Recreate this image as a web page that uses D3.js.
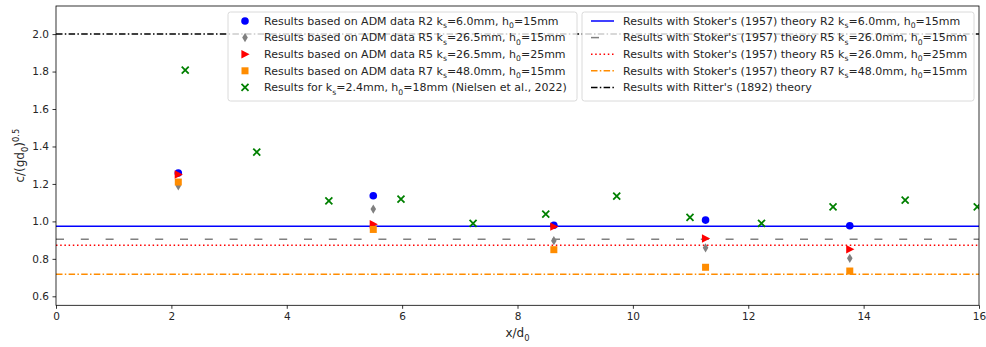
<!DOCTYPE html>
<html>
<head>
<meta charset="utf-8">
<script src="https://cdn.jsdelivr.net/npm/d3@7"></script>
<style>
  body { margin: 0; background: #fff; }
  svg { display: block; font-family: "DejaVu Sans", sans-serif; }
</style>
</head>
<body>
<svg></svg>
<script>
const W = 986, H = 347;
const margins = {t: 6, r: 7, b: 41.7, l: 56};
const size = {w: W - margins.l - margins.r, h: H - margins.t - margins.b};

// ---- data ----
const xR = [2.12, 5.5, 8.63, 11.26, 13.76];
const r2h15 = [1.258, 1.137, 0.979, 1.007, 0.977];
const r5h15 = [1.19, 1.066, 0.897, 0.859, 0.803];
const r5h25 = [1.25, 0.985, 0.972, 0.909, 0.851];
const r7h15 = [1.21, 0.957, 0.849, 0.755, 0.735];
const xNielsen = [2.24, 3.48, 4.73, 5.98, 7.23, 8.49, 9.72, 10.99, 12.23, 13.47, 14.72, 15.97];
const yNielsen = [1.808, 1.37, 1.11, 1.119, 0.99, 1.039, 1.135, 1.022, 0.99, 1.078, 1.114, 1.078];
const stokerR2h15 = 0.974;
const stokerR5h15 = 0.905;
const stokerR5h25 = 0.873;
const stokerR7h15 = 0.718;
const ritter = 2.0;
const xTicks = [0, 2, 4, 6, 8, 10, 12, 14, 16];
const yTicks = [0.6, 0.8, 1.0, 1.2, 1.4, 1.6, 1.8, 2.0];

const pointSeries = [
  {name: 'Results based on ADM data R2 k_{s}=6.0mm, h_{0}=15mm', xs: xR, ys: r2h15, shape: 'circle', color: '#0000ff'},
  {name: 'Results based on ADM data R5 k_{s}=26.5mm, h_{0}=15mm', xs: xR, ys: r5h15, shape: 'diamond', color: '#808080'},
  {name: 'Results based on ADM data R5 k_{s}=26.5mm, h_{0}=25mm', xs: xR, ys: r5h25, shape: 'triangle', color: '#ff0000'},
  {name: 'Results based on ADM data R7 k_{s}=48.0mm, h_{0}=15mm', xs: xR, ys: r7h15, shape: 'square', color: '#ff8c00'},
  {name: 'Results for k_{s}=2.4mm, h_{0}=18mm (Nielsen et al., 2022)', xs: xNielsen, ys: yNielsen, shape: 'x', color: '#008000'}
];
const lineSeries = [
  {name: "Results with Stoker's (1957) theory R2 k_{s}=6.0mm, h_{0}=15mm", y: stokerR2h15, color: '#0000ff', dash: null},
  {name: "Results with Stoker's (1957) theory R5 k_{s}=26.0mm, h_{0}=15mm", y: stokerR5h15, color: '#808080', dash: '8,16.8'},
  {name: "Results with Stoker's (1957) theory R5 k_{s}=26.0mm, h_{0}=25mm", y: stokerR5h25, color: '#ff0000', dash: '1.5,2.7'},
  {name: "Results with Stoker's (1957) theory R7 k_{s}=48.0mm, h_{0}=15mm", y: stokerR7h15, color: '#ff8c00', dash: '6.5,2.3,1.5,2.3'},
  {name: "Results with Ritter's (1892) theory", y: ritter, color: '#000000', dash: '6.5,2.3,1.5,2.3'}
];

const svg = d3.select('svg').attr('width', W).attr('height', H);
const g = svg.append('g').attr('transform', `translate(${margins.l},${margins.t})`);

const scaleX = d3.scaleLinear().domain([0, 16]).range([0, size.w]);
const scaleY = d3.scaleLinear().domain([0.552, 2.15]).range([size.h, 0]);

// text with _{sub} and ^{sup}
function richText(sel, str, fs) {
  const re = /([_^])\{([^}]*)\}/g;
  let last = 0, m;
  const parts = [];
  while ((m = re.exec(str)) !== null) {
    if (m.index > last) parts.push({t: str.slice(last, m.index), k: ''});
    parts.push({t: m[2], k: m[1]});
    last = re.lastIndex;
  }
  if (last < str.length) parts.push({t: str.slice(last), k: ''});
  let prev = '';
  parts.forEach(p => {
    const ts = sel.append('tspan').text(p.t);
    const off = p.k === '_' ? fs * 0.3 : p.k === '^' ? -fs * 0.4 : 0;
    const prevOff = prev === '_' ? fs * 0.3 : prev === '^' ? -fs * 0.4 : 0;
    const dy = off - prevOff;
    if (dy) ts.attr('dy', dy);
    if (p.k) ts.attr('font-size', fs * 0.7);
    prev = p.k;
  });
}

function marker(sel, shape, color) {
  if (shape === 'circle') {
    sel.append('circle').attr('r', 3.8).attr('fill', color);
  } else if (shape === 'diamond') {
    sel.append('path').attr('d', 'M0,-4.6L2.8,0L0,4.6L-2.8,0Z').attr('fill', color);
  } else if (shape === 'triangle') {
    sel.append('path').attr('d', 'M-3.6,-4.2L4.6,0L-3.6,4.2Z').attr('fill', color);
  } else if (shape === 'square') {
    sel.append('rect').attr('x', -3.5).attr('y', -3.5).attr('width', 7).attr('height', 7).attr('fill', color);
  } else if (shape === 'x') {
    sel.append('path').attr('d', 'M-3.5,-3.5L3.5,3.5M-3.5,3.5L3.5,-3.5')
      .attr('stroke', color).attr('stroke-width', 1.8).attr('fill', 'none');
  }
}

// clip
svg.append('defs').append('clipPath').attr('id', 'plotclip')
  .append('rect').attr('width', size.w).attr('height', size.h);
const plot = g.append('g').attr('clip-path', 'url(#plotclip)');

// horizontal theory lines
plot.selectAll('line.theory')
  .data(lineSeries)
  .join('line')
  .attr('class', 'theory')
  .attr('x1', scaleX(0)).attr('x2', scaleX(16))
  .attr('y1', d => scaleY(d.y)).attr('y2', d => scaleY(d.y))
  .attr('stroke', d => d.color)
  .attr('stroke-width', 1.5)
  .attr('stroke-dasharray', d => d.dash);

// markers
pointSeries.forEach(s => {
  s.xs.forEach((x, i) => {
    const mg = plot.append('g').attr('transform', `translate(${scaleX(x)},${scaleY(s.ys[i])})`);
    marker(mg, s.shape, s.color);
  });
});

// axes
const axisX = d3.axisBottom(scaleX).tickValues(xTicks).tickSize(3.5).tickPadding(3.5).tickFormat(d3.format('d'));
const axisY = d3.axisLeft(scaleY).tickValues(yTicks).tickSize(3.5).tickPadding(3.5).tickFormat(d3.format('.1f'));
const axXG = g.append('g').attr('transform', `translate(0,${size.h})`).call(axisX);
const axYG = g.append('g').call(axisY);
[axXG, axYG].forEach(a => {
  a.select('.domain').remove();
  a.selectAll('.tick line').attr('stroke', '#000').attr('stroke-width', 0.8);
  a.selectAll('.tick text').attr('font-family', '"DejaVu Sans", sans-serif').attr('font-size', 10.5).attr('fill', '#262626');
});
g.append('rect').attr('width', size.w).attr('height', size.h)
  .attr('fill', 'none').attr('stroke', '#000').attr('stroke-width', 0.8);

// axis labels
const xl = g.append('text').attr('x', size.w / 2).attr('y', size.h + 32)
  .attr('text-anchor', 'middle').attr('font-size', 12).attr('fill', '#262626');
richText(xl, 'x/d_{0}', 12);
const yl = g.append('text').attr('transform', `translate(-32,${size.h / 2}) rotate(-90)`)
  .attr('text-anchor', 'middle').attr('font-size', 12).attr('fill', '#262626');
richText(yl, 'c/(gd_{0})^{0.5}', 12);

// legends
function legend(x, y, w, h, entries, drawKey) {
  const lg = svg.append('g').attr('transform', `translate(${x},${y})`);
  lg.append('rect').attr('width', w).attr('height', h).attr('rx', 2.5)
    .attr('fill', 'rgba(255,255,255,0.8)').attr('stroke', '#d0d0d0').attr('stroke-width', 0.8);
  entries.forEach((e, i) => {
    const ey = 9 + i * 16.6;
    const kg = lg.append('g').attr('transform', `translate(0,${ey})`);
    drawKey(kg, e);
    const t = kg.append('text').attr('x', drawKey.textX).attr('dy', '0.35em')
      .attr('font-size', 11).attr('fill', '#262626');
    richText(t, e.name, 11);
  });
}
const ptKey = (kg, e) => marker(kg.append('g').attr('transform', 'translate(17,0)'), e.shape, e.color);
ptKey.textX = 36;
legend(228, 12, 349, 89, pointSeries, ptKey);

const lnKey = (kg, e) => kg.append('line').attr('x1', 9).attr('x2', 32).attr('y1', 0).attr('y2', 0)
  .attr('stroke', e.color).attr('stroke-width', 1.5).attr('stroke-dasharray', e.dash);
lnKey.textX = 41;
legend(582, 12, 392, 89, lineSeries, lnKey);
</script>
</body>
</html>
